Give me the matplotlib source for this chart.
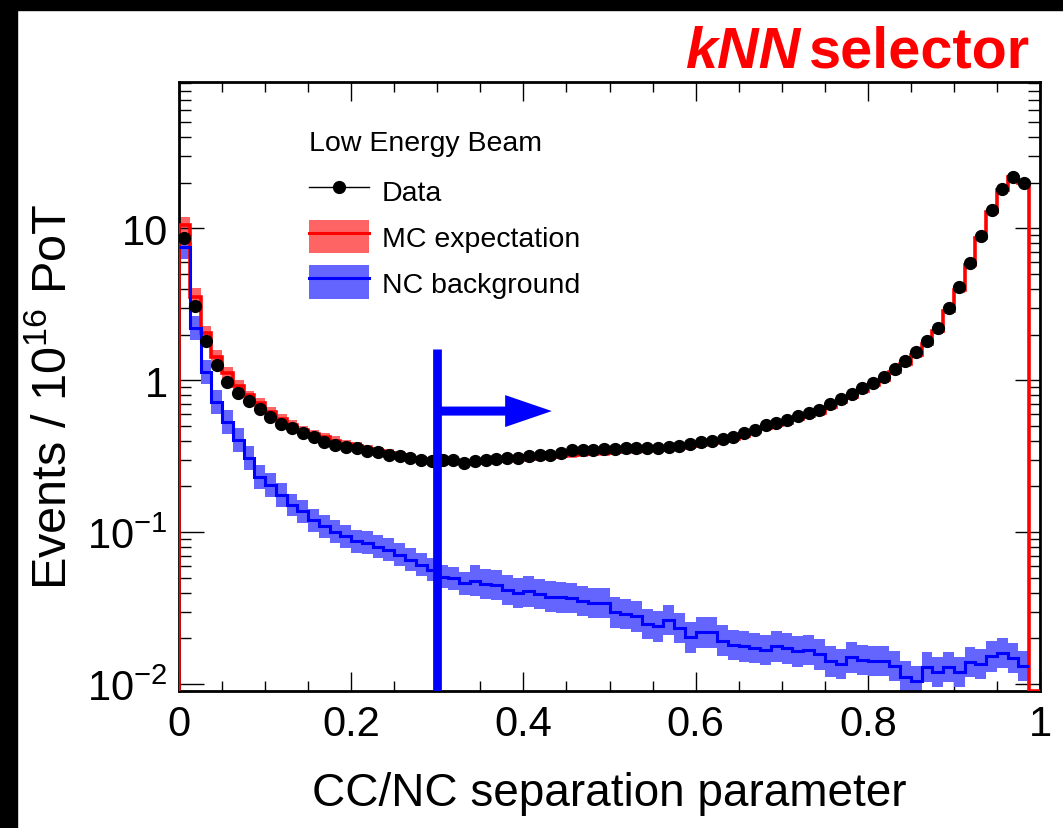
import numpy as np
import matplotlib
matplotlib.use("Agg")
import matplotlib.pyplot as plt
from matplotlib.patches import Patch, Rectangle
from matplotlib.lines import Line2D
from matplotlib.ticker import FixedLocator, MultipleLocator, NullFormatter, LogLocator

# ---------------- data ----------------
n_bins = 80
x_lo, x_hi = 0.0, 1.0

data_vals = [8.7, 3.08, 1.82, 1.27, 0.98, 0.82, 0.73, 0.65, 0.577, 0.515,
             0.483, 0.448, 0.42, 0.395, 0.375, 0.366, 0.357, 0.34, 0.336, 0.323,
             0.315, 0.307, 0.299, 0.296, 0.297, 0.299, 0.285, 0.292, 0.299, 0.305,
             0.307, 0.31, 0.315, 0.32, 0.323, 0.33, 0.345, 0.345, 0.348, 0.352,
             0.352, 0.36, 0.357, 0.357, 0.36, 0.366, 0.372, 0.38, 0.395, 0.4,
             0.41, 0.426, 0.448, 0.471, 0.508, 0.527, 0.548, 0.586, 0.607, 0.638,
             0.695, 0.754, 0.809, 0.886, 0.966, 1.057, 1.186, 1.34, 1.53, 1.82,
             2.22, 2.98, 4.13, 5.94, 8.9, 13.2, 18.3, 21.9, 19.8]

mc_vals = [10.5, 3.55, 2.06, 1.43, 1.11, 0.91, 0.80, 0.71, 0.62, 0.56,
           0.51, 0.47, 0.44, 0.42, 0.40, 0.38, 0.368, 0.352, 0.342, 0.330,
           0.320, 0.310, 0.302, 0.298, 0.294, 0.292, 0.288, 0.288, 0.291, 0.295,
           0.298, 0.302, 0.305, 0.309, 0.313, 0.318, 0.322, 0.326, 0.330, 0.334,
           0.337, 0.341, 0.343, 0.346, 0.350, 0.355, 0.360, 0.367, 0.375, 0.385,
           0.396, 0.41, 0.43, 0.455, 0.485, 0.505, 0.525, 0.56, 0.58, 0.61,
           0.665, 0.72, 0.775, 0.845, 0.925, 1.01, 1.13, 1.28, 1.46, 1.74,
           2.12, 2.85, 3.95, 5.75, 8.6, 12.9, 18.0, 21.8, 20.0]

nc_vals = [7.5, 2.2, 1.14, 0.716, 0.535, 0.405, 0.307, 0.232, 0.205, 0.176,
           0.151, 0.137, 0.12, 0.109, 0.101, 0.094, 0.087, 0.085, 0.080, 0.0765,
           0.071, 0.0658, 0.061, 0.0565, 0.051, 0.0498, 0.046, 0.048, 0.0455, 0.045,
           0.0417, 0.0397, 0.0407, 0.0391, 0.0377, 0.0372, 0.0368, 0.0353, 0.0341, 0.0341,
           0.0296, 0.0289, 0.0279, 0.0248, 0.0240, 0.0265, 0.0233, 0.0203, 0.0219, 0.0219,
           0.0193, 0.0181, 0.0177, 0.0173, 0.0168, 0.0177, 0.0172, 0.0164, 0.0168, 0.0157,
           0.0141, 0.0135, 0.0150, 0.0144, 0.0142, 0.0142, 0.0131, 0.0112, 0.0104, 0.0129,
           0.0120, 0.0129, 0.0120, 0.0140, 0.0135, 0.0152, 0.0160, 0.0148, 0.0131]

# relative half-widths of the systematic bands
mc_band = [0.14] * 2 + [0.10] * 4 + [0.07] * 15 + [0.045] * 58
nc_band = [0.20] * 10 + [0.19] * 17 + [0.26] * 52

cut_value = 0.3
arrow_end = 0.433
arrow_level = 0.627
cut_top = 1.61

y_ticks = [0.01, 0.1, 1, 10]
y_tick_labels = ["$10^{-2}$", "$10^{-1}$", "1", "10"]
x_ticks = [0, 0.2, 0.4, 0.6, 0.8, 1]
x_tick_labels = ["0", "0.2", "0.4", "0.6", "0.8", "1"]

legend_title = "Low Energy Beam"
legend_labels = ["Data", "MC expectation", "NC background"]
x_label = "CC/NC separation parameter"
y_label = "Events / 10$^{16}$ PoT"

# ---------------- fonts ----------------
REG = "Liberation Sans"
plt.rcParams["font.family"] = [REG, "DejaVu Sans"]
plt.rcParams["mathtext.fontset"] = "custom"
plt.rcParams["mathtext.rm"] = REG
plt.rcParams["mathtext.it"] = REG + ":italic"
plt.rcParams["mathtext.bf"] = REG + ":bold"

W, H = 1063, 829
fig = plt.figure(figsize=(W / 100, H / 100), dpi=100, facecolor="white")
ax = fig.add_axes([179 / W, 1 - 692 / H, (1040 - 179) / W, (692 - 83) / H])

YMIN, YMAX = 0.009, 92.0

edges = np.linspace(x_lo, x_hi, n_bins + 1)
data = np.array(data_vals)
mc = np.array(mc_vals)
nc = np.array(nc_vals)
nfill = len(data)
e_fill = edges[: nfill + 1]
centers = 0.5 * (e_fill[:-1] + e_fill[1:])

red_band = "#ff6464"
blue_band = "#6464ff"

mcb = np.array(mc_band)
ncb = np.array(nc_band)
ax.stairs(mc * (1 + mcb), e_fill, baseline=mc / (1 + mcb), fill=True,
          color=red_band, lw=0, zorder=1)
ax.stairs(nc * (1 + ncb), e_fill, baseline=nc / (1 + ncb), fill=True,
          color=blue_band, lw=0, zorder=2)

mc_full = np.append(mc, np.full(n_bins - nfill, YMIN))
ax.stairs(mc_full, edges, baseline=YMIN, color="red", lw=2.6, zorder=3)
ax.stairs(nc, e_fill, baseline=None, color="blue", lw=2.2, zorder=4)

ax.plot(centers, data, "o", color="black", ms=8.5, zorder=6)

# cut and arrow
ax.plot([cut_value, cut_value], [YMIN, cut_top], color="blue", lw=6.3,
        solid_capstyle="butt", zorder=7)
ax.annotate("", xy=(arrow_end, arrow_level), xytext=(cut_value, arrow_level),
            arrowprops=dict(arrowstyle="simple,head_length=33.6,head_width=23,tail_width=6.5",
                            mutation_scale=1, fc="blue", ec="none", lw=0,
                            shrinkA=0, shrinkB=0), zorder=7)

ax.set_yscale("log")
ax.set_xlim(x_lo, x_hi)
ax.set_ylim(YMIN, YMAX)

ax.xaxis.set_major_locator(FixedLocator(x_ticks))
ax.set_xticklabels(x_tick_labels)
ax.xaxis.set_minor_locator(MultipleLocator(0.05))
ax.yaxis.set_major_locator(FixedLocator(y_ticks))
ax.set_yticklabels(y_tick_labels)
ax.yaxis.set_minor_locator(LogLocator(base=10, subs=np.arange(2, 10)))
ax.yaxis.set_minor_formatter(NullFormatter())

ax.tick_params(axis="both", which="both", direction="in", top=True, right=True,
               width=1.0, colors="black")
ax.tick_params(axis="x", which="major", length=13.5, pad=9)
ax.tick_params(axis="x", which="minor", length=7)
ax.tick_params(axis="y", which="major", length=18, pad=8)
ax.tick_params(axis="y", which="minor", length=8.5)
for lab in ax.get_xticklabels() + ax.get_yticklabels():
    lab.set_fontfamily(REG)
    lab.set_fontsize(30)

for sp in ax.spines.values():
    sp.set_linewidth(2.0)

ax.set_xlabel(x_label, fontsize=33, fontfamily=REG)
ax.xaxis.label.set_va("center")
ax.xaxis.set_label_coords((609 - 179) / (1040 - 179), -(794 - 692) / (692 - 83))
ax.set_ylabel(y_label, fontsize=35, fontfamily=REG)
ax.yaxis.label.set_va("center")
ax.yaxis.set_label_coords((53 - 179) / (1040 - 179), (692 - 397) / (692 - 83))

# legend
h_data = Line2D([], [], color="black", marker="o", ms=8.5, lw=1.0)
h_mc = (Patch(facecolor=red_band, edgecolor="none"), Line2D([], [], color="red", lw=2.2))
h_nc = (Patch(facecolor=blue_band, edgecolor="none"), Line2D([], [], color="blue", lw=2.2))
leg = ax.legend([h_data, h_mc, h_nc], legend_labels, title=legend_title,
                loc="upper left", bbox_to_anchor=(295 / W, 1 - 117 / H),
                bbox_transform=fig.transFigure, frameon=False, fontsize=20.5,
                title_fontsize=20.5, handlelength=2.1, handleheight=1.45,
                handletextpad=0.45, labelspacing=0.42, borderpad=0,
                alignment="left", numpoints=1)
leg._legend_box.sep = leg._legend_box.sep + 4.0

# title
t_sel = fig.text(1030 / W, 1 - 68 / H, "selector", color="red", fontsize=41.5,
                 fontweight="bold", ha="right", va="baseline", fontfamily=REG)
fig.canvas.draw()
bb = t_sel.get_window_extent()
fig.text((bb.x0 - 9) / W, 1 - 68 / H, "kNN", color="red", fontsize=41.5,
         fontweight="bold", fontstyle="italic", ha="right", va="baseline",
         fontfamily=REG)

# black border strips
fig.patches.append(Rectangle((0, 0), 17 / W, 1, transform=fig.transFigure,
                             color="black", zorder=10))
fig.patches.append(Rectangle((0, 1 - 11 / H), 1, 11 / H, transform=fig.transFigure,
                             color="black", zorder=10))

fig.savefig("out.png", dpi=100, facecolor="white")
